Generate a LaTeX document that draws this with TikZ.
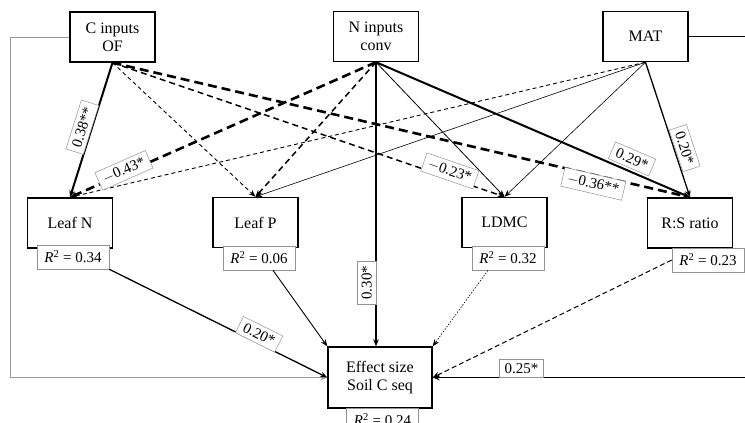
\documentclass[tikz,border=0pt]{standalone}
\usepackage{fontspec}
\setmainfont{Liberation Serif}
\usetikzlibrary{arrows.meta}
\begin{document}
\begin{tikzpicture}[x=1pt,y=-1pt,
  box/.style={draw=black, line width=1.4pt, fill=white, minimum width=85pt, minimum height=50pt, align=center, font=\fontsize{16}{18}\selectfont, inner sep=2pt},
  rbox/.style={draw=gray!85, line width=0.6pt, fill=white, minimum width=72pt, minimum height=24pt, font=\fontsize{15}{17}\selectfont, inner sep=1pt},
  lab/.style={draw=gray!85, solid, line width=0.5pt, fill=white, font=\fontsize{15}{17}\selectfont, inner xsep=5pt, inner ysep=4pt, sloped},
  arr/.style={-{Stealth[length=7pt,width=5.5pt]}},
  solA/.style={arr, line width=2pt},
  solB/.style={arr, line width=1.3pt},
  solC/.style={arr, line width=0.6pt},
  dshA/.style={arr, line width=2.6pt, dash pattern=on 9pt off 5pt},
  dshB/.style={arr, line width=1.5pt, dash pattern=on 6pt off 4pt},
  dshC/.style={arr, line width=0.9pt, dash pattern=on 4pt off 3pt},
  dotC/.style={arr, line width=0.6pt, dash pattern=on 1.5pt off 1.5pt},
]
\useasboundingbox (0,0) rectangle (745,423);
\clip (0,0) rectangle (745,423);

% main boxes
\node[box] (C) at (112.5,37) {C inputs\\OF};
\node[box] (N) at (376,36.5) {N inputs\\conv};
\node[box] (M) at (645.5,36.5) {MAT};
\node[box] (LN) at (70,223) {Leaf N};
\node[box] (LP) at (255.5,222.5) {Leaf P};
\node[box] (LD) at (504.5,222.5) {LDMC};
\node[box] (RS) at (690,223) {R:S ratio};
\node[box, minimum width=104pt, minimum height=61pt] (E) at (380,377.5) {Effect size\\Soil C seq};

% R2 boxes
\node[rbox] (rN) at (73,257) {\textit{R}\textsuperscript{2} = 0.34};
\node[rbox] (rP) at (259,258) {\textit{R}\textsuperscript{2} = 0.06};
\node[rbox] (rD) at (508,258) {\textit{R}\textsuperscript{2} = 0.32};
\node[rbox] (rR) at (708,260) {\textit{R}\textsuperscript{2} = 0.23};
\node[rbox] (rE) at (382.5,420) {\textit{R}\textsuperscript{2} = 0.24};

% unlabeled connectors
\draw[arr, line width=0.7pt, draw=gray!80] (C.west) -- (10,37) -- (10,377.5) -- (E.west);
\draw[dshC] (C.south) -- (LP.north);
\draw[dshC] (M.south) -- (LN.north);
\draw[solC] (M.south) -- (LP.north);
\draw[solC] (M.south) -- (LD.north);
\draw[dshB] (N.south) -- (LP.north);
\draw[solC, line width=0.8pt] (N.south) -- (LD.north);
\draw[solC, line width=0.9pt] ([xshift=14pt]rP.south) -- (E.north west);
\draw[dotC] ([xshift=-20pt]rD.south) -- (E.north east);
\draw[arr, line width=1pt, dash pattern=on 5pt off 3pt] (rR.west) -- (E.east);

% labeled connectors
\draw[solA] (C.south) -- node[lab, pos=0.5, above=0pt] {0.38**} (LN.north);
\draw[dshA] (N.south) -- node[lab, pos=0.82, above=-7pt] {$-$0.43*} (LN.north);
\draw[dshB] (C.south) -- node[lab, pos=0.855, above=-3pt] {$-$0.23*} (LD.north);
\draw[dshA] (C.south) -- node[lab, pos=0.836, below=-1pt] {$-$0.36**} (RS.north);
\draw[solA] (N.south) -- node[lab, pos=0.8, above=3pt] {0.29*} (RS.north);
\draw[solB] (M.south) -- node[lab, pos=0.66, above=1pt] {0.20*} (RS.north);
\draw[solA] (N.south) -- node[lab, sloped=false, rotate=90, anchor=south, pos=0.776] {0.30*} (N.south |- E.north);
\draw[solB] (rN.south east) -- node[lab, pos=0.67, above=-1pt] {0.20*} (E.west);
\draw[arr, line width=1.6pt] (M.east) -- (760,36.5) -- (760,377.5) -- node[lab, sloped=false, pos=0.729, above=0pt] {0.25*} (E.east);
\end{tikzpicture}
\end{document}
